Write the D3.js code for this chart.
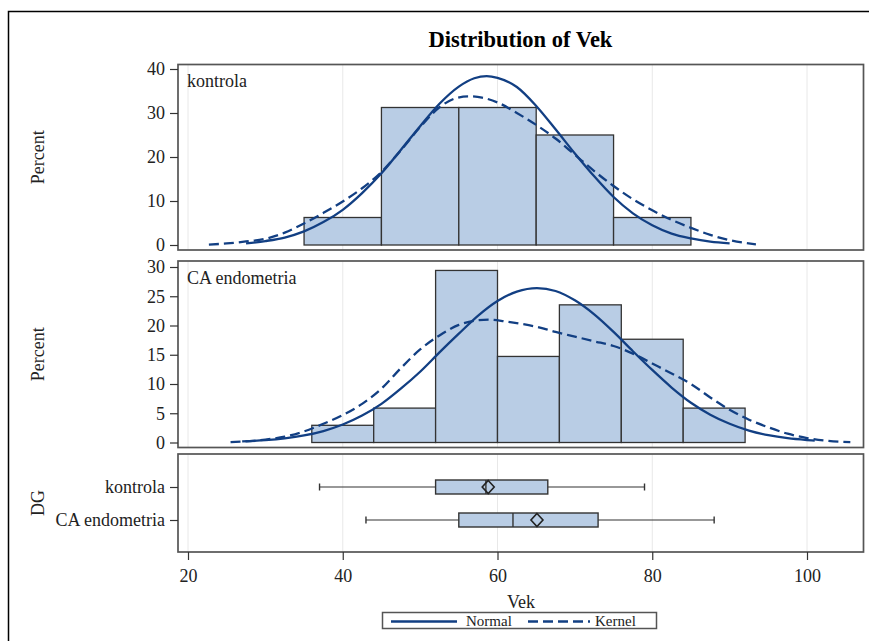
<!DOCTYPE html>
<html><head><meta charset="utf-8">
<script src="https://cdn.jsdelivr.net/npm/d3@7"></script>
<style>
html,body{margin:0;padding:0;background:#fff;}
text{font-family:"Liberation Serif","Times New Roman",serif;fill:#222;}
</style></head>
<body>
<svg id="chart" width="869" height="641"></svg>
<script>
// ---------- data ----------
const title = "Distribution of Vek";
const groups = ["kontrola", "CA endometria"];
const xTicks = [20, 40, 60, 80, 100];
const yTicksTop = [0, 10, 20, 30, 40];
const yTicksMid = [0, 5, 10, 15, 20, 25, 30];

// histogram: kontrola (bin edges, percent)
const edgesK = [35, 45, 55, 65, 75, 85];
const pctK = [6.25, 31.25, 31.25, 25, 6.25];
// histogram: CA endometria
const edgesC = [36, 44, 52, 60, 68, 76, 84, 92];
const pctC = [2.94, 5.88, 29.41, 14.71, 23.53, 17.65, 5.88];

// curves: [Vek, percent]
const normalK = [[27.5,0.35],[30,0.9],[32.5,1.7],[35,3.1],[37.5,5.2],[40,8.0],[42.5,11.8],[45,16.3],[47.5,21.6],[50,27.0],[52.5,32.1],[55,36.0],[57,37.9],[58.6,38.4],[60,38.0],[62.5,35.9],[65,31.6],[67.5,26.3],[70,20.8],[72.5,15.6],[75,10.9],[77.5,7.2],[80,4.5],[82.5,2.6],[85,1.5],[87.5,0.75],[90,0.35]];
const kernelK = [[22.7,0.1],[25,0.35],[27.5,0.8],[30,1.4],[32.5,2.8],[35,4.9],[37.5,7.3],[40,9.9],[42.5,12.9],[45,16.6],[47.5,21.5],[50,26.8],[52.5,31.3],[54.5,33.3],[56.3,33.8],[58,33.5],[60,32.4],[62.5,30.0],[65,27.3],[67.5,24.2],[70,20.5],[72.5,16.8],[75,13.4],[77.5,10.4],[80,7.9],[82.5,5.7],[85,3.9],[87.5,2.3],[90,1.1],[93.4,0.15]];
const normalC = [[27,0.19],[30,0.39],[32.5,0.7],[35,1.2],[37.5,1.96],[40,3.07],[42.5,4.6],[45,6.6],[47.5,9.2],[50,12.1],[52.5,15.4],[55,18.6],[57.5,21.7],[60,24.2],[62.5,25.8],[65.1,26.4],[67.5,25.9],[70,24.3],[72.5,21.9],[75,18.9],[77.5,15.6],[80,12.4],[82.5,9.4],[85,6.8],[87.5,4.76],[90,3.2],[92.5,2.03],[95,1.25],[97.5,0.73],[100,0.41],[101,0.31]];
const kernelC = [[25.5,0.05],[28,0.25],[30,0.5],[32.5,1.0],[35,1.9],[37.5,3.2],[40,4.7],[42.5,6.6],[45,9.2],[47.5,12.7],[50,15.9],[52.5,18.3],[55,20.1],[57.5,20.9],[59,21.0],[61,20.7],[63,20.3],[65,19.8],[67.5,18.9],[70,18.1],[72.5,17.3],[75,16.5],[77.5,15.2],[80,13.5],[82.5,11.8],[85,10.0],[87.5,7.7],[90,5.6],[92.5,3.9],[95,2.6],[97.5,1.5],[100,0.75],[102.5,0.3],[105.6,0.05]];

// box plot statistics
const boxMin = [37, 43];
const boxQ1 = [52, 55];
const boxMed = [58.5, 62];
const boxQ3 = [66.5, 73];
const boxMax = [79, 88];
const boxMean = [58.8, 65.1];

// ---------- layout ----------
const svg = d3.select("#chart");
const FONT = 18;
const L = 178, R = 863.5;
const panels = [
  {top: 64.5, bottom: 250, dom: [0, 40], rng: [245, 69], ticks: yTicksTop, label: groups[0], edges: edgesK, pct: pctK, normal: normalK, kernel: kernelK},
  {top: 261, bottom: 447.5, dom: [0, 30], rng: [442.5, 267], ticks: yTicksMid, label: groups[1], edges: edgesC, pct: pctC, normal: normalC, kernel: kernelC}
];
const boxPanel = {top: 454, bottom: 552};

const x = d3.scaleLinear().domain([20, 100]).range([188, 807]);

const fill = "#b9cde5", barStroke = "#333", curveCol = "#123f83", frameCol = "#555", gridCol = "#e8e8e8";

// outer border
svg.append("rect").attr("x", 8.5).attr("y", 11.5).attr("width", 1000).attr("height", 1000)
  .attr("fill", "none").attr("stroke", "#000").attr("stroke-width", 1.5);

// title
svg.append("text").attr("x", 520.5).attr("y", 47).attr("text-anchor", "middle")
  .attr("font-size", 22.5).attr("font-weight", "bold").style("fill", "#000").text(title);

function grid(top, bottom) {
  svg.append("g").selectAll("line").data(xTicks).join("line")
    .attr("x1", d => x(d)).attr("x2", d => x(d)).attr("y1", top).attr("y2", bottom)
    .attr("stroke", gridCol).attr("stroke-width", 1);
}
function frame(top, bottom) {
  svg.append("rect").attr("x", L).attr("y", top).attr("width", R - L).attr("height", bottom - top)
    .attr("fill", "none").attr("stroke", frameCol).attr("stroke-width", 1.7);
}

panels.forEach(p => {
  const y = d3.scaleLinear().domain(p.dom).range(p.rng);
  grid(p.top, p.bottom);
  // bars
  const g = svg.append("g");
  g.selectAll("rect").data(p.pct).join("rect")
    .attr("x", (d, i) => x(p.edges[i]))
    .attr("width", (d, i) => x(p.edges[i + 1]) - x(p.edges[i]))
    .attr("y", d => y(d)).attr("height", d => y(0) - y(d))
    .attr("fill", fill).attr("stroke", barStroke).attr("stroke-width", 1.3);
  const line = d3.line().x(d => x(d[0])).y(d => y(d[1])).curve(d3.curveMonotoneX);
  svg.append("path").attr("d", line(p.normal)).attr("fill", "none")
    .attr("stroke", curveCol).attr("stroke-width", 2.3);
  svg.append("path").attr("d", line(p.kernel)).attr("fill", "none")
    .attr("stroke", curveCol).attr("stroke-width", 2.3).attr("stroke-dasharray", "10,5");
  frame(p.top, p.bottom);
  // y axis
  const ax = d3.axisLeft(y).tickValues(p.ticks).tickSize(8).tickPadding(5).tickFormat(d3.format("d"));
  const ag = svg.append("g").attr("transform", `translate(${L},0)`).call(ax);
  ag.select(".domain").remove();
  ag.selectAll("line").attr("stroke", "#333").attr("stroke-width", 1.2);
  ag.selectAll("text").attr("font-size", FONT).attr("font-family", "Liberation Serif").style("fill", "#222");
  // panel label
  svg.append("text").attr("x", 187).attr("y", p.top + 22.5)
    .attr("font-size", FONT).text(p.label);
  // axis title
  const cy = (p.top + p.bottom) / 2;
  svg.append("text").attr("transform", `translate(44,${cy}) rotate(-90)`).attr("text-anchor", "middle")
    .attr("font-size", FONT).text("Percent");
});

// box plot panel
grid(boxPanel.top, boxPanel.bottom);
const yb = d3.scalePoint().domain(groups).range([487, 520]);
const bh = 14;
const bg = svg.append("g");
groups.forEach((gname, i) => {
  const cy = yb(gname);
  // whiskers
  bg.append("line").attr("x1", x(boxMin[i])).attr("x2", x(boxQ1[i])).attr("y1", cy).attr("y2", cy)
    .attr("stroke", "#333").attr("stroke-width", 1.2);
  bg.append("line").attr("x1", x(boxQ3[i])).attr("x2", x(boxMax[i])).attr("y1", cy).attr("y2", cy)
    .attr("stroke", "#333").attr("stroke-width", 1.2);
  [boxMin[i], boxMax[i]].forEach(v => {
    bg.append("line").attr("x1", x(v)).attr("x2", x(v)).attr("y1", cy - 3.5).attr("y2", cy + 3.5)
      .attr("stroke", "#333").attr("stroke-width", 1.4);
  });
  bg.append("rect").attr("x", x(boxQ1[i])).attr("width", x(boxQ3[i]) - x(boxQ1[i]))
    .attr("y", cy - bh / 2).attr("height", bh).attr("fill", fill).attr("stroke", barStroke).attr("stroke-width", 1.4);
  bg.append("line").attr("x1", x(boxMed[i])).attr("x2", x(boxMed[i])).attr("y1", cy - bh / 2).attr("y2", cy + bh / 2)
    .attr("stroke", "#333").attr("stroke-width", 1.4);
  const mx = x(boxMean[i]);
  bg.append("path").attr("d", `M${mx},${cy - 6.5}L${mx + 6},${cy}L${mx},${cy + 6.5}L${mx - 6},${cy}Z`)
    .attr("fill", "none").attr("stroke", "#222").attr("stroke-width", 1.6);
});
frame(boxPanel.top, boxPanel.bottom);
const ayb = svg.append("g").attr("transform", `translate(${L},0)`).call(d3.axisLeft(yb).tickSize(8).tickPadding(5));
ayb.select(".domain").remove();
ayb.selectAll("line").attr("stroke", "#333").attr("stroke-width", 1.2);
ayb.selectAll("text").attr("font-size", FONT).attr("font-family", "Liberation Serif").style("fill", "#222");
svg.append("text").attr("transform", `translate(44,${(boxPanel.top + boxPanel.bottom) / 2}) rotate(-90)`)
  .attr("text-anchor", "middle").attr("font-size", FONT).text("DG");

// x axis
const axx = svg.append("g").attr("transform", `translate(0,${boxPanel.bottom})`)
  .call(d3.axisBottom(x).tickValues(xTicks).tickSize(8).tickPadding(9).tickFormat(d3.format("d")));
axx.select(".domain").remove();
axx.selectAll("line").attr("stroke", "#333").attr("stroke-width", 1.2);
axx.selectAll("text").attr("font-size", FONT).attr("font-family", "Liberation Serif").style("fill", "#222");
svg.append("text").attr("x", 521).attr("y", 608).attr("text-anchor", "middle").attr("font-size", FONT).text("Vek");

// legend
const lg = svg.append("g");
lg.append("rect").attr("x", 382.5).attr("y", 612.5).attr("width", 274).attr("height", 16)
  .attr("fill", "#fff").attr("stroke", frameCol).attr("stroke-width", 1.5);
lg.append("line").attr("x1", 391).attr("x2", 457).attr("y1", 621.5).attr("y2", 621.5)
  .attr("stroke", curveCol).attr("stroke-width", 2.5);
lg.append("text").attr("x", 466).attr("y", 626).attr("font-size", 15).text("Normal");
lg.append("line").attr("x1", 528).attr("x2", 590).attr("y1", 621.5).attr("y2", 621.5)
  .attr("stroke", curveCol).attr("stroke-width", 2.5).attr("stroke-dasharray", "10,5");
lg.append("text").attr("x", 595).attr("y", 626).attr("font-size", 15).text("Kernel");
</script>
</body></html>
